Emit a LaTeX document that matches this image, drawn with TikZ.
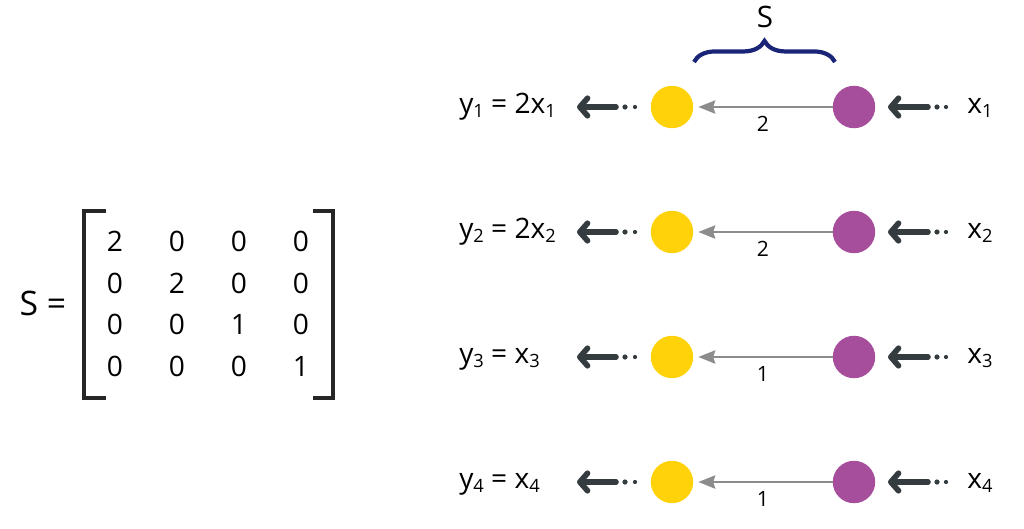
\documentclass[tikz,border=0pt]{standalone}
\usepackage{fontspec}
\setmainfont{Open Sans}
\usetikzlibrary{arrows.meta,decorations.pathreplacing,matrix}
\definecolor{dotyellow}{HTML}{FFD20A}
\definecolor{dotpurple}{HTML}{A64D9B}
\definecolor{flowgrey}{HTML}{343C40}
\definecolor{gaingrey}{HTML}{8C8C8C}
\definecolor{bracenavy}{HTML}{1B2577}
\newcommand{\lo}[1]{\raisebox{-3.5pt}{\fontsize{13}{15}\selectfont #1}}
\begin{document}
\begin{tikzpicture}[x=0.025cm, y=-0.025cm,
    lbl/.style={font=\fontsize{20}{24}\selectfont, inner sep=0},
    num/.style={font=\fontsize{15}{18}\selectfont, inner sep=0, text=black},
    outdot/.style={circle, fill=dotyellow, minimum size=1.06cm, inner sep=0},
    indot/.style={circle, fill=dotpurple, minimum size=1.06cm, inner sep=0},
    gain/.style={-{Stealth[length=12pt,width=9.5pt,inset=1.5pt]}, gaingrey, line width=1.2pt, shorten >=3.5pt},
    flow/.style={-{Straight Barb[length=5.5pt,width=12.5pt,round]}, flowgrey, line width=4pt, line cap=round},
    bracket/.style={line width=2.4pt, black!85},
    ]
    \useasboundingbox (0,0) rectangle (1024,528);

    % Matrix S
    \node[font=\fontsize{24}{28}\selectfont, inner sep=0] (Slabel) at (43,303) {S =};
    \matrix (S) at (208,304) [matrix of nodes,
        nodes={font=\fontsize{20}{24}\selectfont, minimum width=1.55cm, minimum height=1.04cm, inner sep=0}] {
        2 & 0 & 0 & 0 \\
        0 & 2 & 0 & 0 \\
        0 & 0 & 1 & 0 \\
        0 & 0 & 0 & 1 \\
    };
    \draw[bracket] (106,211) -- (84,211) -- (84,398) -- (106,398);
    \draw[bracket] (313,211) -- (333,211) -- (333,398) -- (313,398);

    % Brace over the gains
    \coordinate (bl) at (694,62);
    \coordinate (br) at (835,62);
    \draw[bracenavy, line width=3pt, decorate, decoration={brace, amplitude=15pt}] (bl) -- (br);
    \node[font=\fontsize{21}{24}\selectfont, inner sep=0] (Sbrace) at (765,17) {S};

    % Row 1
    \begin{scope}[shift={(0,107)}]
        \node[outdot] (out1) at (672,0) {};
        \node[indot] (in1) at (854,0) {};
        \draw[gain] (in1) -- node[num, below=6pt] {2} (out1);
        \coordinate (lt1) at (616,0);
        \coordinate (lh1) at (577,0);
        \draw[flow] (lt1) -- (lh1);
        \fill[flowgrey] (625,0) circle (2.6) (635,0) circle (2.1);
        \coordinate (rt1) at (928,0);
        \coordinate (rh1) at (888,0);
        \draw[flow] (rt1) -- (rh1);
        \fill[flowgrey] (937,0) circle (2.6) (946,0) circle (2.1);
        \node[lbl, anchor=base west] (ylab1) at (459,6) {y\lo{1} = 2x\lo{1}};
        \node[lbl, anchor=base west] (xlab1) at (967,6) {x\lo{1}};
    \end{scope}

    % Row 2
    \begin{scope}[shift={(0,232)}]
        \node[outdot] (out2) at (672,0) {};
        \node[indot] (in2) at (854,0) {};
        \draw[gain] (in2) -- node[num, below=6pt] {2} (out2);
        \coordinate (lt2) at (616,0);
        \coordinate (lh2) at (577,0);
        \draw[flow] (lt2) -- (lh2);
        \fill[flowgrey] (625,0) circle (2.6) (635,0) circle (2.1);
        \coordinate (rt2) at (928,0);
        \coordinate (rh2) at (888,0);
        \draw[flow] (rt2) -- (rh2);
        \fill[flowgrey] (937,0) circle (2.6) (946,0) circle (2.1);
        \node[lbl, anchor=base west] (ylab2) at (459,6) {y\lo{2} = 2x\lo{2}};
        \node[lbl, anchor=base west] (xlab2) at (967,6) {x\lo{2}};
    \end{scope}

    % Row 3
    \begin{scope}[shift={(0,357)}]
        \node[outdot] (out3) at (672,0) {};
        \node[indot] (in3) at (854,0) {};
        \draw[gain] (in3) -- node[num, below=6pt] {1} (out3);
        \coordinate (lt3) at (616,0);
        \coordinate (lh3) at (577,0);
        \draw[flow] (lt3) -- (lh3);
        \fill[flowgrey] (625,0) circle (2.6) (635,0) circle (2.1);
        \coordinate (rt3) at (928,0);
        \coordinate (rh3) at (888,0);
        \draw[flow] (rt3) -- (rh3);
        \fill[flowgrey] (937,0) circle (2.6) (946,0) circle (2.1);
        \node[lbl, anchor=base west] (ylab3) at (459,6) {y\lo{3} = x\lo{3}};
        \node[lbl, anchor=base west] (xlab3) at (967,6) {x\lo{3}};
    \end{scope}

    % Row 4
    \begin{scope}[shift={(0,482)}]
        \node[outdot] (out4) at (672,0) {};
        \node[indot] (in4) at (854,0) {};
        \draw[gain] (in4) -- node[num, below=6pt] {1} (out4);
        \coordinate (lt4) at (616,0);
        \coordinate (lh4) at (577,0);
        \draw[flow] (lt4) -- (lh4);
        \fill[flowgrey] (625,0) circle (2.6) (635,0) circle (2.1);
        \coordinate (rt4) at (928,0);
        \coordinate (rh4) at (888,0);
        \draw[flow] (rt4) -- (rh4);
        \fill[flowgrey] (937,0) circle (2.6) (946,0) circle (2.1);
        \node[lbl, anchor=base west] (ylab4) at (459,6) {y\lo{4} = x\lo{4}};
        \node[lbl, anchor=base west] (xlab4) at (967,6) {x\lo{4}};
    \end{scope}

\end{tikzpicture}
\end{document}
